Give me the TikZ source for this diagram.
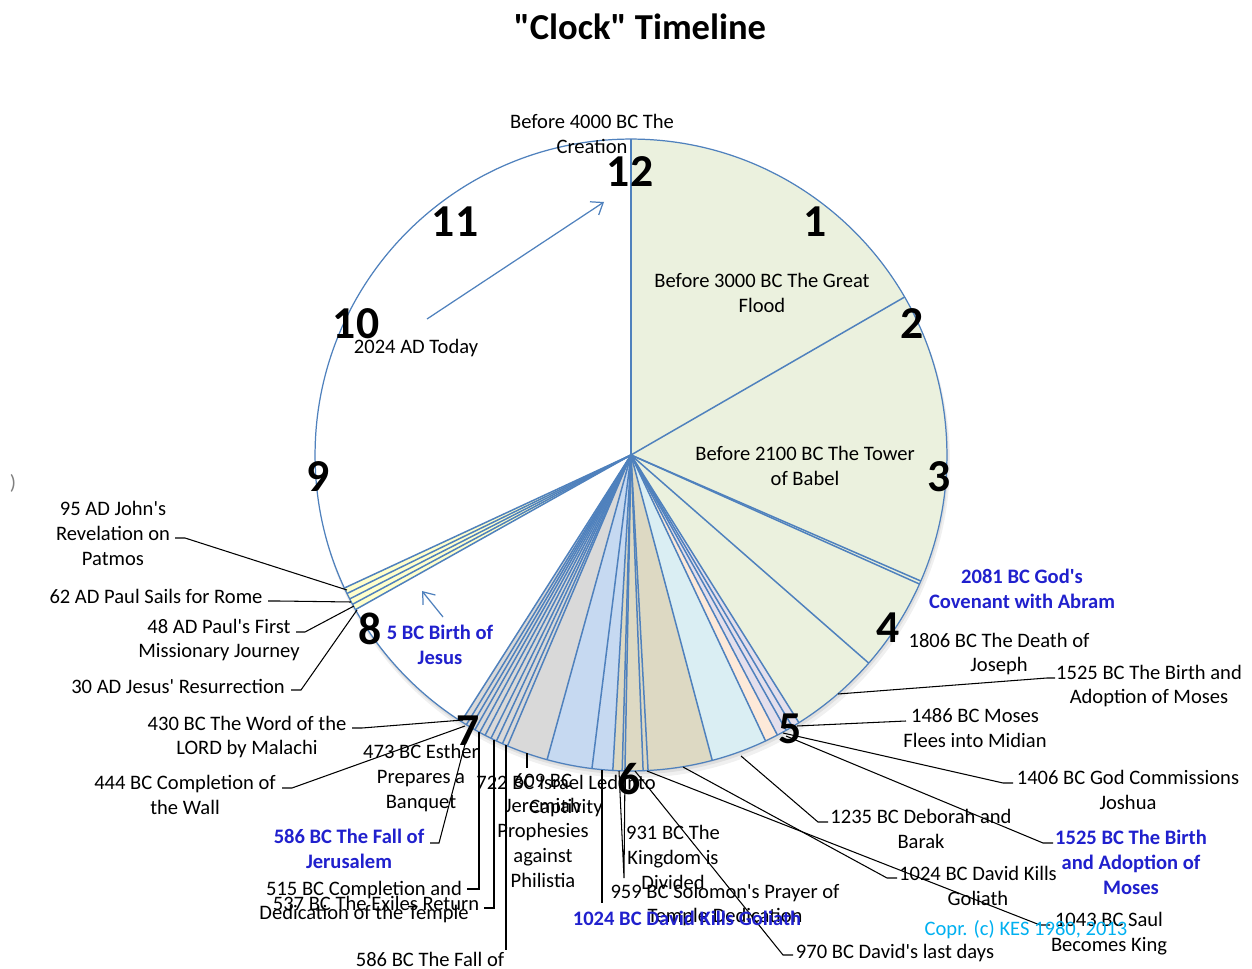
\documentclass[tikz,border=0pt]{standalone}
\usepackage{fontspec}
\setmainfont{Carlito}
\newfontfamily\carl{Carlito}
\usetikzlibrary{arrows.meta}
\definecolor{pieline}{HTML}{4F81BD}
\definecolor{cgreen}{HTML}{EBF1DE}
\definecolor{clav}{HTML}{E4DFEC}
\definecolor{cpeach}{HTML}{FDE9D9}
\definecolor{clblue}{HTML}{DAEEF3}
\definecolor{ctan}{HTML}{DDD9C3}
\definecolor{cblue}{HTML}{C6D9F1}
\definecolor{cgray}{HTML}{D9D9D9}
\definecolor{cyel}{HTML}{FFFFCC}
\definecolor{lblue}{RGB}{32,32,205}
\definecolor{copr}{HTML}{00B0F0}
\newcommand{\wedgefill}[3]{\pgfmathsetmacro\wa{#1-90}\pgfmathsetmacro\wb{#2-90}%
  \fill[#3] (C) -- plot[domain=\wa:\wb, samples=60] ({631+316*cos(\x)},{455+316*sin(\x)}) -- cycle;}
\tikzset{
  spoke/.style={draw=pieline, line width=0.85pt},
  rimline/.style={draw=pieline, line width=0.7pt},
  pointer/.style={draw=pieline, line width=0.7pt, -{Straight Barb[length=6pt,width=9pt]}},
  leader/.style={draw=black, line width=0.6pt},
  lab/.style={font=\carl\fontsize{11.7}{14.2}\selectfont, align=center, inner sep=0pt},
  blab/.style={lab, font=\carl\fontsize{11.7}{14.2}\selectfont\bfseries, text=lblue},
  num/.style={font=\carl\fontsize{26}{30}\selectfont\bfseries, inner sep=0pt},
  ttl/.style={font=\carl\fontsize{20.8}{25}\selectfont\bfseries, inner sep=0pt}
}
\begin{document}
\begin{tikzpicture}[x=0.02cm,y=-0.02cm]
\useasboundingbox (0,0) rectangle (1252,969);
\fill[white] (0,0) rectangle (1252,969);
\coordinate (C) at (631,455);
% soft shadow under the pie
\fill[black, opacity=0.06] (633,461) circle[radius=6.34cm];
\fill[black, opacity=0.07] (632,458) circle[radius=6.33cm];
\fill[black, opacity=0.08] (631,456) circle[radius=6.32cm];
% pie
\fill[white] (C) circle[radius=6.32cm];
\wedgefill{0}{147.9}{cgreen}
\wedgefill{147.9}{152.4}{clav}
\wedgefill{152.4}{154.8}{cpeach}
\wedgefill{154.8}{165.1}{clblue}
\wedgefill{165.1}{183.3}{ctan}
\wedgefill{183.3}{195.4}{cblue}
\wedgefill{195.4}{212.5}{cgray}
\wedgefill{240.7}{245.1}{cyel}
\foreach \t in {0,60,113.5,114.1,131.2,147.9,149.3,150.6,152.4,154.8,165.1,176.9,177.8,181.1,181.6,183.3,187.1,195.4,203.0,204.0,205.2,206.3,207.5,208.6,209.6,210.5,211.4,212.5,240.7,241.8,242.9,244.0,245.1}
  \draw[spoke] (C) -- ++({\t-90}:316);
\draw[rimline] (C) circle[radius=6.32cm];

% title
\node[ttl] (title) at (640,27) {"Clock" Timeline};
\node[text=gray, font=\carl\fontsize{11.7}{14}\selectfont, inner sep=0pt] (stray) at (13,483) {)};

% arrows
\coordinate (ta) at (427,319);
\coordinate (tb) at (604,202);
\draw[pointer] (ta) -- (tb);
\coordinate (ja) at (443,617);
\coordinate (jb) at (422,591);
\draw[pointer] (ja) -- (jb);

% labels inside / around pie
\node[lab] (creation) at (592,134) {Before 4000 BC The\\Creation};
\node[lab] (flood) at (762,293) {Before 3000 BC The Great\\Flood};
\node[lab] (babel) at (805,466) {Before 2100 BC The Tower\\of Babel};
\node[lab] (today) at (416,348) {2024 AD Today};
\node[blab] (abram) at (1022,589) {2081 BC God's\\Covenant with Abram};
\node[lab] (joseph) at (999,654) {1806 BC The Death of\\Joseph};
\node[blab] (birth) at (440,645) {5 BC Birth of\\Jesus};

% leaders (pie point -- tick -- label)
\coordinate (m1p) at (838,694); \coordinate (m1k) at (1047,678); \coordinate (m1e) at (1055,678);
\draw[leader] (m1p) -- (m1k) -- (m1e);
\coordinate (mdp) at (797,726); \coordinate (mde) at (906,721);
\draw[leader] (mdp) -- (mde);
\coordinate (jsp) at (783,733); \coordinate (jsk) at (1003,783); \coordinate (jse) at (1013,783);
\draw[leader] (jsp) -- (jsk) -- (jse);
\coordinate (m2p) at (786,736); \coordinate (m2k) at (1043,843); \coordinate (m2e) at (1053,843);
\draw[leader] (m2p) -- (m2k) -- (m2e);
\coordinate (dbp) at (741,756); \coordinate (dbk) at (818,822); \coordinate (dbe) at (828,822);
\draw[leader] (dbp) -- (dbk) -- (dbe);
\coordinate (gop) at (683,767); \coordinate (gok) at (887,878); \coordinate (goe) at (897,878);
\draw[leader] (gop) -- (gok) -- (goe);
\coordinate (sap) at (647,771); \coordinate (sak) at (1040,925); \coordinate (sae) at (1050,925);
\draw[leader] (sap) -- (sak) -- (sae);
\coordinate (ldp) at (635,771); \coordinate (ldk) at (783,955); \coordinate (lde) at (793,955);
\draw[leader] (ldp) -- (ldk) -- (lde);
\coordinate (kdp) at (619,771); \coordinate (kdq) at (625,771); \coordinate (kde) at (624,878);
\draw[leader] (kdp) -- (kde) -- (kdq);
\coordinate (slp) at (602,770); \coordinate (sle) at (602,903);
\draw[leader] (slp) -- (sle);
\coordinate (jrp) at (527,753); \coordinate (jre) at (527,768);
\draw[leader] (jrp) -- (jre);
\coordinate (fap) at (506,745); \coordinate (fae) at (506,950);
\draw[leader] (fap) -- (fae);
\coordinate (exp) at (494,740); \coordinate (exk) at (494,908); \coordinate (exe) at (484,908);
\draw[leader] (exp) -- (exk) -- (exe);
\coordinate (tep) at (479,732); \coordinate (tek) at (479,889); \coordinate (tee) at (467,889);
\draw[leader] (tep) -- (tek) -- (tee);
\coordinate (jup) at (469,729); \coordinate (juk) at (439,843); \coordinate (jue) at (430,843);
\draw[leader] (jup) -- (juk) -- (jue);
\coordinate (wap) at (465,726); \coordinate (wak) at (292,788); \coordinate (wae) at (282,788);
\draw[leader] (wap) -- (wak) -- (wae);
\coordinate (map) at (463,720); \coordinate (mak) at (362,728); \coordinate (mae) at (352,728);
\draw[leader] (map) -- (mak) -- (mae);
\coordinate (rsp) at (357,610); \coordinate (rsk) at (301,690); \coordinate (rse) at (291,690);
\draw[leader] (rsp) -- (rsk) -- (rse);
\coordinate (pfp) at (354,606); \coordinate (pfk) at (305,632); \coordinate (pfe) at (296,632);
\draw[leader] (pfp) -- (pfk) -- (pfe);
\coordinate (rop) at (351,602); \coordinate (rok) at (278,601); \coordinate (roe) at (268,601);
\draw[leader] (rop) -- (rok) -- (roe);
\coordinate (jnp) at (347,590); \coordinate (jnk) at (185,538); \coordinate (jne) at (175,538);
\draw[leader] (jnp) -- (jnk) -- (jne);

% outer labels
\node[lab] (moses1) at (1149,686) {1525 BC The Birth and\\Adoption of Moses};
\node[lab] (midian) at (975,728) {1486 BC Moses\\Flees into Midian};
\node[lab] (joshua) at (1128,790) {1406 BC God Commissions\\Joshua};
\node[blab] (moses2) at (1131,862) {1525 BC The Birth\\and Adoption of\\Moses};
\node[lab] (deborah) at (921,829) {1235 BC Deborah and\\Barak};
\node[lab] (goliath) at (978,886) {1024 BC David Kills\\Goliath};
\node[lab] (saul) at (1109,934) {1043 BC Saul\\Becomes King};
\node[lab] (lastdays) at (895,953) {970 BC David's last days};
\node[lab] (solomon) at (725,905) {959 BC Solomon's Prayer of\\Temple Dedication};
\node[blab] (david2) at (687,918) {1024 BC David Kills Goliath};
\node[lab] (kingdom) at (673,857) {931 BC The\\Kingdom is\\Divided};
\node[lab] (captivity) at (566,796) {722 BC Israel Led into\\Captivity};
\node[lab] (jeremiah) at (543,831) {609 BC\\Jeremiah\\Prophesies\\against\\Philistia};
\node[lab] (esther) at (421,778) {473 BC Esther\\Prepares a\\Banquet};
\node[blab] (jerusalem) at (349,849) {586 BC The Fall of\\Jerusalem};
\node[lab] (temple) at (364,902) {515 BC Completion and\\Dedication of the Temple};
\node[lab] (exiles) at (376,903) {537 BC The Exiles Return};
\node[lab] (fall) at (430,959) {586 BC The Fall of};
\node[lab] (malachi) at (247,737) {430 BC The Word of the\\LORD by Malachi};
\node[lab] (wall) at (185,795) {444 BC Completion of\\the Wall};
\node[lab] (john) at (113,533) {95 AD John's\\Revelation on\\Patmos};
\node[lab] (rome) at (156,596) {62 AD Paul Sails for Rome};
\node[lab] (paul) at (219,640) {48 AD Paul's First\\Missionary Journey};
\node[lab] (resur) at (178,686) {30 AD Jesus' Resurrection};
\node[lab, text=copr] (copr) at (1026,930) {Copr. (c) KES 1980, 2013};

% clock numbers
\node[num] (n12) at (630,172) {12};
\node[num] (n1) at (815,222) {1};
\node[num] (n2) at (912,324) {2};
\node[num] (n3) at (939,477) {3};
\node[num] (n4) at (888,628) {4};
\node[num] (n5) at (790,729) {5};
\node[num] (n6) at (629,779) {6};
\node[num] (n7) at (468,731) {7};
\node[num] (n8) at (370,629) {8};
\node[num] (n9) at (318,477) {9};
\node[num] (n10) at (356,324) {10};
\node[num] (n11) at (455,222) {11};
\end{tikzpicture}
\end{document}
